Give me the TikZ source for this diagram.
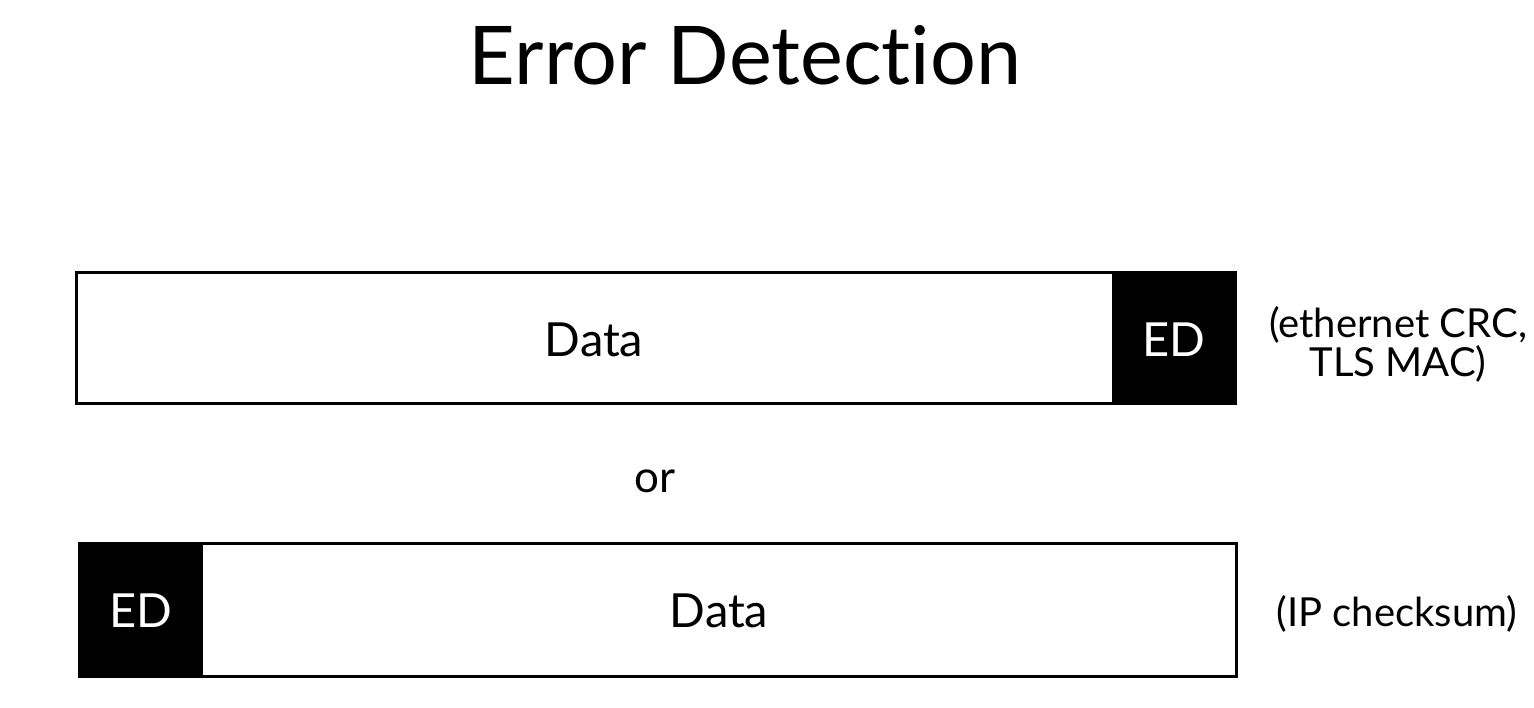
\documentclass[tikz,border=0pt]{standalone}
\usepackage{fontspec}
\setmainfont[Ligatures=NoCommon]{Lato}
\begin{document}
\begin{tikzpicture}[x=1pt,y=-1pt,
  frame/.style={draw=black,line width=3pt,fill=white,inner sep=0pt,outer sep=0pt},
  edbox/.style={fill=black,draw=black,line width=1pt,inner sep=0pt,outer sep=0pt,minimum width=123pt},
  lbl/.style={inner sep=0pt,anchor=base,font=\fontsize{47}{56}\selectfont},
  edlbl/.style={lbl,text=white},
  note/.style={inner sep=0pt,font=\fontsize{40}{39}\selectfont,align=center}]
\useasboundingbox (0,0) rectangle (1534,708);
\node[inner sep=0pt,anchor=base,font=\fontsize{81}{90}\selectfont] (title) at (745,85) {Error Detection};
% top packet
\node[frame,minimum width=1159pt,minimum height=131pt] (top) at (655.5,338.5) {};
\node[edbox,minimum height=131pt] (toped) at (1173.5,338.5) {};
\node[lbl] (topdata) at (594,357) {Data};
\node[edlbl] (topedl) at (1173.5,357) {ED};
\node[note,anchor=base] (topnote) at (1398,377) {(ethernet CRC,\\TLS MAC)};
% or
\node[lbl,font=\fontsize{44}{50}\selectfont] (or) at (655,492) {or};
% bottom packet
\node[frame,minimum width=1157pt,minimum height=133pt] (bot) at (657.5,609.5) {};
\node[edbox,minimum height=133pt] (boted) at (140.5,609.5) {};
\node[lbl] (botdata) at (719,627) {Data};
\node[edlbl] (botedl) at (140.5,627) {ED};
\node[note,anchor=base] (botnote) at (1397,626) {(IP checksum)};
\end{tikzpicture}
\end{document}
